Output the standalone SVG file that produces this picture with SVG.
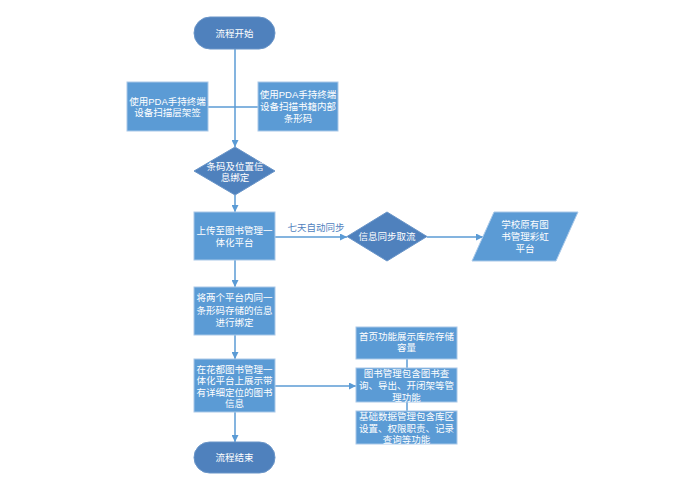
<svg xmlns="http://www.w3.org/2000/svg" width="691" height="483" viewBox="0 0 691 483">
<defs>
<marker id="arr" viewBox="0 0 10 10" refX="10" refY="5" markerWidth="7" markerHeight="7" markerUnits="userSpaceOnUse" orient="auto">
<path d="M0,0 L10,5 L0,10 z" fill="#5B9BD5"/>
</marker>
<style>
.box{fill:#5B9BD5;stroke:#A9C8E8;stroke-width:1}
.dark{fill:#4F81BD;stroke:#6A95C8;stroke-width:1}
.t{font-family:"Liberation Sans","Noto Sans CJK SC",sans-serif;font-size:9.5px;fill:#FFFFFF;text-anchor:middle;dominant-baseline:central}
.lbl{font-family:"Liberation Sans","Noto Sans CJK SC",sans-serif;font-size:9.5px;fill:#4F81BD;text-anchor:middle;dominant-baseline:central}
.c{stroke:#5B9BD5;stroke-width:1.5;fill:none}
.ca{stroke:#5B9BD5;stroke-width:1.5;fill:none;marker-end:url(#arr)}
</style>
</defs>
<rect width="691" height="483" fill="#FFFFFF"/>
<g id="connectors">
<path class="ca" d="M235,49 V147"/>
<path class="c" d="M208,107 H258"/>
<path class="ca" d="M235,195 V212"/>
<path class="ca" d="M275,237 H347"/>
<path class="ca" d="M427,237 H483"/>
<path class="ca" d="M235,260 V287"/>
<path class="ca" d="M235,335 V359"/>
<path class="ca" d="M235,412 V442"/>
<path class="ca" d="M275,386 H356"/>
<path class="c" d="M407,359 V368"/>
<path class="c" d="M407,402 V411"/>
<text class="lbl" x="316" y="227">七天自动同步</text>
</g>
<g id="start">
<rect class="dark" x="194" y="17" width="81" height="32" rx="16" ry="16"/>
<text class="t" x="234.5" y="33">流程开始</text>
</g>
<g id="scan-shelf">
<rect class="box" x="127" y="82" width="81" height="49"/>
<text class="t" x="167.5" y="100.5"><tspan x="167.5" y="100.5">使用PDA手持终端</tspan><tspan x="167.5" y="112">设备扫描层架签</tspan></text>
</g>
<g id="scan-book">
<rect class="box" x="258" y="82" width="80" height="49"/>
<text class="t" x="298" y="94"><tspan x="298" y="94">使用PDA手持终端</tspan><tspan x="298" y="106">设备扫描书籍内部</tspan><tspan x="298" y="118">条形码</tspan></text>
</g>
<g id="bind">
<polygon class="dark" points="235,147 275,171 235,195 194,171"/>
<text class="t" x="235" y="165.5"><tspan x="235" y="165.5">条码及位置信</tspan><tspan x="235" y="177">息绑定</tspan></text>
</g>
<g id="upload">
<rect class="box" x="194" y="212" width="81" height="48"/>
<text class="t" x="234.5" y="230"><tspan x="234.5" y="230">上传至图书管理一</tspan><tspan x="234.5" y="242">体化平台</tspan></text>
</g>
<g id="sync">
<polygon class="dark" points="387,212 427,236.5 387,261 347,236.5"/>
<text class="t" x="387" y="236.5">信息同步取流</text>
</g>
<g id="school">
<polygon class="box" points="494,212 578,212 556,261 472,261"/>
<text class="t" x="525" y="224"><tspan x="525" y="224">学校原有图</tspan><tspan x="525" y="236">书管理彩虹</tspan><tspan x="525" y="248">平台</tspan></text>
</g>
<g id="bind2">
<rect class="box" x="194" y="287" width="81" height="48"/>
<text class="t" x="234.5" y="297"><tspan x="234.5" y="297">将两个平台内同一</tspan><tspan x="234.5" y="309.5">条形码存储的信息</tspan><tspan x="234.5" y="322">进行绑定</tspan></text>
</g>
<g id="display">
<rect class="box" x="194" y="359" width="81" height="53"/>
<text class="t" x="234.5" y="368.5"><tspan x="234.5" y="368.5">在花都图书管理一</tspan><tspan x="234.5" y="380">体化平台上展示带</tspan><tspan x="234.5" y="391.5">有详细定位的图书</tspan><tspan x="234.5" y="403">信息</tspan></text>
</g>
<g id="end">
<rect class="dark" x="194" y="442" width="81" height="31" rx="15.5" ry="15.5"/>
<text class="t" x="234.5" y="457.5">流程结束</text>
</g>
<g id="feature-home">
<rect class="box" x="356" y="327" width="101" height="32"/>
<text class="t" x="406.5" y="335.5"><tspan x="406.5" y="335.5">首页功能展示库房存储</tspan><tspan x="406.5" y="347">容量</tspan></text>
</g>
<g id="feature-books">
<rect class="box" x="356" y="368" width="101" height="34"/>
<text class="t" x="406.5" y="373"><tspan x="406.5" y="373">图书管理包含图书查</tspan><tspan x="406.5" y="385">询、导出、开闭架等管</tspan><tspan x="406.5" y="397">理功能</tspan></text>
</g>
<g id="feature-base">
<rect class="box" x="356" y="411" width="101" height="33"/>
<text class="t" x="406.5" y="416"><tspan x="406.5" y="416">基础数据管理包含库区</tspan><tspan x="406.5" y="427.5">设置、权限职责、记录</tspan><tspan x="406.5" y="439">查询等功能</tspan></text>
</g>
</svg>
